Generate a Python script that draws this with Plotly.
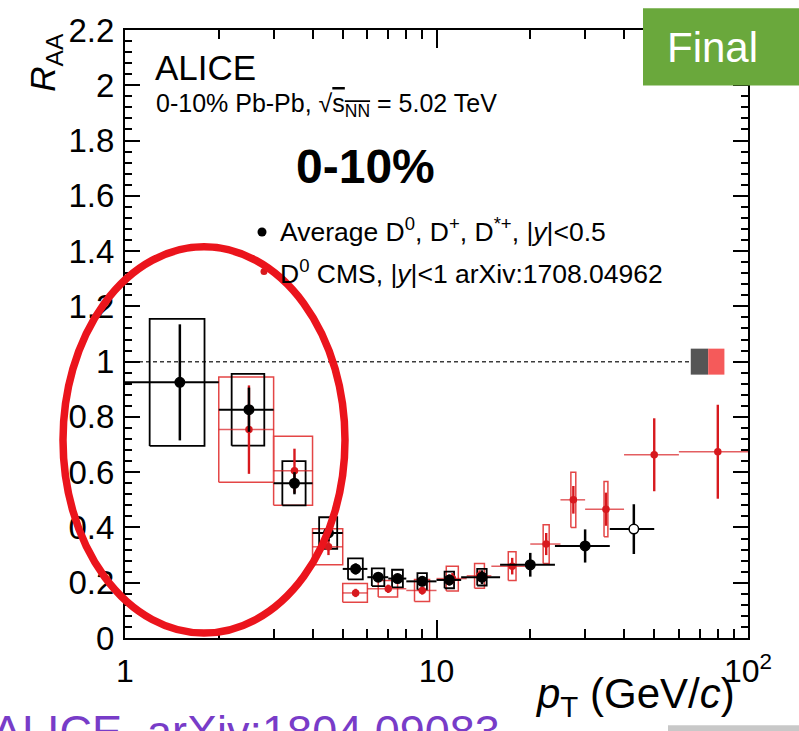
import plotly.graph_objects as go

# ---------------- data ----------------
alice_pt = [1.5, 2.5, 3.5, 4.5, 5.5, 6.5, 7.5, 9, 11, 14, 20, 30, 43]
alice_lo = [1, 2, 3, 4, 5, 6, 7, 8, 10, 12, 16, 24, 36]
alice_hi = [2, 3, 4, 5, 6, 7, 8, 10, 12, 16, 24, 36, 50]
alice_raa = [0.925, 0.826, 0.56, 0.38, 0.25, 0.22, 0.215, 0.205, 0.21, 0.22, 0.265, 0.333, 0.394]
alice_stat = [0.21, 0.08, 0.04, 0.03, 0.02, 0.015, 0.015, 0.015, 0.02, 0.025, 0.043, 0.06, 0.09]
alice_syst = [0.23, 0.13, 0.08, 0.057, 0.038, 0.032, 0.032, 0.03, 0.03, 0.03, 0.0, 0.0, 0.0]

cms_pt = [2.5, 3.5, 4.5, 5.5, 7, 9, 11.25, 13.75, 17.5, 22.5, 27.5, 35, 50, 80]
cms_lo = [2, 3, 4, 5, 6, 8, 10, 12.5, 15, 20, 25, 30, 40, 60]
cms_hi = [3, 4, 5, 6, 8, 10, 12.5, 15, 20, 25, 30, 40, 60, 100]
cms_raa = [0.754, 0.605, 0.33, 0.163, 0.178, 0.172, 0.215, 0.225, 0.26, 0.34, 0.50, 0.466, 0.663, 0.674]
cms_stat = [0.16, 0.08, 0.03, 0.015, 0.015, 0.015, 0.02, 0.02, 0.03, 0.04, 0.05, 0.06, 0.132, 0.17]
cms_syst = [0.19, 0.125, 0.065, 0.034, 0.03, 0.04, 0.045, 0.045, 0.052, 0.07, 0.1, 0.1, 0.0, 0.0]

norm_alice = 0.047
norm_cms = 0.047

x_tickvals = [1, 10, 100]
x_ticktext = ["1", "10", "10<sup>2</sup>"]
x_minor = [2, 3, 4, 5, 6, 7, 8, 9, 20, 30, 40, 50, 60, 70, 80, 90]

# ---------------- layout helpers ----------------
W, H = 799, 731
L, R, T, B = 125, 748, 24, 638
FONT = "Liberation Sans, Arial, Helvetica, sans-serif"
RED = "rgb(215,25,30)"
RED_BOX = "rgb(228,70,70)"


def px(x):
    return (x - L) / (R - L)


def py(y):
    return (B - y) / (B - T)


def box_path(pt, val, syst, hw_fun):
    xs, ys = [], []
    for p, v, s in zip(pt, val, syst):
        if s <= 0:
            continue
        hw = hw_fun(p)
        xs += [p - hw, p + hw, p + hw, p - hw, p - hw, None]
        ys += [v - s, v - s, v + s, v + s, v - s, None]
    return xs, ys


fig = go.Figure()

# systematic boxes
cx, cy = box_path(cms_pt, cms_raa, cms_syst, lambda p: 0.5)
fig.add_trace(go.Scatter(x=cx, y=cy, mode="lines", line=dict(color=RED_BOX, width=1.5),
                         hoverinfo="skip", showlegend=False))
ax_, ay_ = box_path(alice_pt, alice_raa, alice_syst, lambda p: max(0.3, 0.035 * p))
fig.add_trace(go.Scatter(x=ax_, y=ay_, mode="lines", line=dict(color="black", width=1.8),
                         hoverinfo="skip", showlegend=False))

# normalisation boxes at unity
fig.add_trace(go.Scatter(x=[65.5, 74.5, 74.5, 65.5, 65.5],
                         y=[1 - norm_alice, 1 - norm_alice, 1 + norm_alice, 1 + norm_alice, 1 - norm_alice],
                         mode="lines", fill="toself", fillcolor="rgb(85,85,85)",
                         line=dict(width=0, color="rgb(85,85,85)"), hoverinfo="skip", showlegend=False))
fig.add_trace(go.Scatter(x=[74.5, 84, 84, 74.5, 74.5],
                         y=[1 - norm_cms, 1 - norm_cms, 1 + norm_cms, 1 + norm_cms, 1 - norm_cms],
                         mode="lines", fill="toself", fillcolor="rgb(245,90,90)",
                         line=dict(width=0, color="rgb(245,90,90)"), hoverinfo="skip", showlegend=False))

# CMS points
fig.add_trace(go.Scatter(
    x=cms_pt, y=cms_raa, mode="markers",
    marker=dict(color=RED, size=7.5, line=dict(width=0)),
    error_y=dict(type="data", array=cms_stat, color=RED, thickness=2.4, width=0),
    error_x=dict(type="data", array=[h - p for h, p in zip(cms_hi, cms_pt)],
                 arrayminus=[p - l for p, l in zip(cms_pt, cms_lo)],
                 color="rgba(215,25,30,0.7)", thickness=1.5, width=0),
    showlegend=False))

# ALICE points
fig.add_trace(go.Scatter(
    x=alice_pt, y=alice_raa, mode="markers",
    marker=dict(color=["black"] * (len(alice_pt) - 1) + ["white"], size=9.5,
                line=dict(color="black", width=1.5)),
    error_y=dict(type="data", array=alice_stat, color="black", thickness=2.5, width=0),
    error_x=dict(type="data", array=[h - p for h, p in zip(alice_hi, alice_pt)],
                 arrayminus=[p - l for p, l in zip(alice_pt, alice_lo)],
                 color="black", thickness=2, width=0),
    showlegend=False))

shapes = [
    dict(type="line", xref="x", yref="y", x0=1, x1=65.5, y0=1, y1=1, layer="below",
         line=dict(color="rgb(60,60,60)", width=1.5, dash="4px,3px")),
    # legend markers
    dict(type="circle", xref="paper", yref="paper", xsizemode="pixel", ysizemode="pixel",
         xanchor=px(262), yanchor=py(228), x0=-4.5, x1=4.5, y0=-4.5, y1=4.5,
         fillcolor="black", line=dict(width=0), layer="above"),
    dict(type="circle", xref="paper", yref="paper", xsizemode="pixel", ysizemode="pixel",
         xanchor=px(264), yanchor=py(268), x0=-3.5, x1=3.5, y0=-3.5, y1=3.5,
         fillcolor=RED, line=dict(width=0), layer="above"),
    # red ellipse
    dict(type="circle", xref="paper", yref="paper", x0=px(63), x1=px(345), y0=py(633), y1=py(243),
         line=dict(color="rgb(235,20,28)", width=7.5), layer="above"),
    # Final badge
    dict(type="rect", xref="paper", yref="paper", x0=px(643), x1=px(805), y0=py(80), y1=py(2),
         fillcolor="rgb(106,168,60)", line=dict(width=0), layer="above"),
    # grey bar bottom right
    dict(type="rect", xref="paper", yref="paper", x0=px(668), x1=px(805), y0=py(735), y1=py(726),
         fillcolor="rgb(200,200,200)", line=dict(width=0), layer="above"),
]

ann = []


def add_text(text, x, y, size, xanchor="left", yanchor="middle", color="black", angle=0):
    ann.append(dict(text=text, x=px(x), y=py(y), xref="paper", yref="paper", showarrow=False,
                    xanchor=xanchor, yanchor=yanchor, textangle=angle,
                    font=dict(family=FONT, size=size, color=color)))


add_text("ALICE", 153, 62, 35)
add_text("0-10% Pb-Pb, √<span style='text-decoration:overline'>s<sub>NN</sub></span> = 5.02 TeV", 154, 100, 25)
add_text("<b>0-10%</b>", 365, 162, 48, xanchor="center")
add_text("Average D<sup>0</sup>, D<sup>+</sup>, D<sup>*+</sup>, |<i>y</i>|&lt;0.5", 278, 226, 26.5)
add_text("D<sup>0</sup> CMS, |<i>y</i>|&lt;1 arXiv:1708.04962", 278, 268, 26.5)
add_text("<i>p</i><sub>T</sub> (GeV/<i>c</i>)", 737, 697, 42, xanchor="right")
add_text("<i>R</i><sub>AA</sub>", 45, 57, 35, xanchor="center", angle=-90)
add_text("Final", 712, 42, 42, xanchor="center", color="white")
add_text("ALICE, arXiv:1804.09083", -10, 732, 45, color="rgb(120,60,200)")

fig.update_layout(
    width=W, height=H, autosize=False,
    margin=dict(l=L, r=W - R, t=T, b=H - B, pad=0),
    paper_bgcolor="white", plot_bgcolor="white",
    shapes=shapes, annotations=ann, showlegend=False,
    xaxis=dict(type="log", range=[0, 2], tickmode="array", tickvals=x_tickvals, ticktext=x_ticktext,
               ticks="inside", ticklen=18, tickwidth=1.5, tickcolor="black",
               showline=True, linecolor="black", linewidth=2, mirror="allticks",
               showgrid=False, zeroline=False, ticklabelstandoff=4,
               tickfont=dict(family=FONT, size=32, color="black"),
               minor=dict(tickmode="array", tickvals=x_minor, ticks="inside", ticklen=9,
                          tickwidth=1.5, tickcolor="black", showgrid=False)),
    yaxis=dict(range=[0, 2.2], tick0=0, dtick=0.2,
               ticks="inside", ticklen=15, tickwidth=1.5, tickcolor="black",
               showline=True, linecolor="black", linewidth=2, mirror="allticks",
               showgrid=False, zeroline=False, ticklabelstandoff=2,
               tickfont=dict(family=FONT, size=33, color="black"),
               minor=dict(tick0=0, dtick=0.04, ticks="inside", ticklen=7,
                          tickwidth=1.5, tickcolor="black", showgrid=False)),
)

fig.write_html("out.html")
